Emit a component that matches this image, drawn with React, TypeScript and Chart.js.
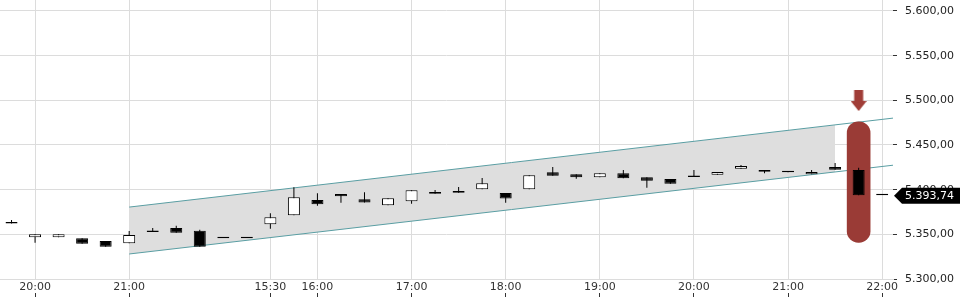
import React, { useEffect, useRef } from 'react';
import { Chart, registerables } from 'chart.js';

Chart.register(...registerables);

// 15-minute candles, index 0 = 19:45 (previous day)
const opens = [5363.8, 5346.7, 5346.7, 5345.6, 5342.5, 5340.0, 5352.5, 5357.0, 5354.1, 5345.6, 5345.6, 5361.2, 5371.3, 5388.4, 5395.1, 5389.2, 5382.5, 5387.0, 5397.4, 5398.5, 5400.4, 5396.3, 5400.4, 5419.5, 5417.2, 5413.8, 5418.3, 5413.8, 5411.9, 5414.2, 5416.8, 5423.5, 5422.0, 5420.9, 5417.2, 5425.4, 5422.0, 5393.74];
const highs = [5366.0, 5350.0, 5350.0, 5345.6, 5342.5, 5353.7, 5357.0, 5359.7, 5355.0, 5345.6, 5345.6, 5373.5, 5402.6, 5396.0, 5395.1, 5397.0, 5390.3, 5399.3, 5399.6, 5403.0, 5413.0, 5396.3, 5416.1, 5425.4, 5417.2, 5418.3, 5422.0, 5413.8, 5411.9, 5422.0, 5419.8, 5427.6, 5422.0, 5420.9, 5422.0, 5429.8, 5424.6, 5393.74];
const lows = [5362.0, 5340.6, 5346.7, 5339.5, 5336.2, 5340.0, 5352.5, 5351.8, 5336.2, 5345.6, 5345.6, 5356.3, 5371.3, 5382.0, 5385.4, 5385.5, 5382.5, 5384.3, 5395.5, 5396.6, 5400.4, 5385.4, 5400.4, 5415.6, 5412.3, 5413.8, 5412.7, 5402.2, 5406.7, 5414.2, 5416.8, 5423.5, 5418.3, 5419.4, 5417.2, 5422.4, 5393.74, 5393.74];
const closes = [5362.2, 5350.0, 5350.0, 5339.5, 5336.2, 5349.2, 5352.5, 5351.8, 5336.2, 5345.6, 5345.6, 5369.0, 5391.4, 5383.6, 5392.6, 5385.5, 5390.3, 5399.3, 5395.5, 5396.6, 5407.1, 5390.0, 5416.1, 5415.6, 5413.8, 5418.3, 5412.7, 5410.0, 5406.7, 5414.2, 5419.8, 5426.5, 5420.1, 5419.4, 5419.8, 5422.4, 5393.74, 5393.74];

const tickIndices = [1, 5, 11, 13, 17, 21, 25, 29, 33, 37];
const tickLabels = ['20:00', '21:00', '15:30', '16:00', '17:00', '18:00', '19:00', '20:00', '21:00', '22:00'];

const channelUpper = [{ x: 5, y: 5380.5 }, { x: 37.5, y: 5480.2 }];
const channelLower = [{ x: 5, y: 5328.0 }, { x: 37.5, y: 5427.5 }];
const channelFillUpper = [{ x: 5, y: 5380.5 }, { x: 35, y: 5472.5 }];
const channelFillLower = [{ x: 5, y: 5328.0 }, { x: 35, y: 5419.8 }];

const signalIndex = 36;
const signalRange = [5341, 5476];
const arrowValue = 5499.8;

const X_MIN = -0.49;
const X_MAX = 37.46;
const Y_MIN = 5300;
const Y_MAX = 5612.3;

const fmt = (v: number) => {
  const [i, d] = v.toFixed(2).split('.');
  return i.replace(/\B(?=(\d{3})+(?!\d))/g, '.') + ',' + d;
};

const priceTag = {
  id: 'priceTag',
  afterDraw(chart: any) {
    const ys = chart.scales.y;
    const ctx = chart.ctx;
    const v = closes[closes.length - 1];
    const py = ys.getPixelForValue(v) + 0.5;
    const left = chart.chartArea.right + 1;
    ctx.save();
    ctx.fillStyle = '#000';
    ctx.beginPath();
    ctx.moveTo(left, py);
    ctx.lineTo(left + 8, py - 8);
    ctx.lineTo(chart.width, py - 8);
    ctx.lineTo(chart.width, py + 8);
    ctx.lineTo(left + 8, py + 8);
    ctx.closePath();
    ctx.fill();
    ctx.fillStyle = '#fff';
    ctx.font = '11px "DejaVu Sans"';
    ctx.textBaseline = 'middle';
    ctx.textAlign = 'left';
    ctx.fillText(fmt(v), left + 11, py);
    ctx.restore();
  },
};

function makeArrow(): HTMLCanvasElement {
  const c = document.createElement('canvas');
  c.width = 16;
  c.height = 21;
  const g = c.getContext('2d')!;
  g.fillStyle = '#a03d37';
  g.fillRect(3.5, 0, 9, 11);
  g.beginPath();
  g.moveTo(0, 11);
  g.lineTo(16, 11);
  g.lineTo(8, 21);
  g.closePath();
  g.fill();
  return c;
}

const noPad = (s: any) => {
  s.paddingTop = 0;
  s.paddingBottom = 0;
  s.paddingLeft = 0;
  s.paddingRight = 0;
};

export default function App() {
  const ref = useRef<HTMLCanvasElement | null>(null);

  useEffect(() => {
    document.body.style.margin = '0';
    const canvas = ref.current!;
    const idx = closes.map((_, i) => i);
    const bodyColors = idx.map((i) => (closes[i] > opens[i] ? '#ffffff' : '#000000'));
    const arrow = makeArrow();

    const tickBuild = (s: any) => {
      s.ticks = tickIndices.map((v) => ({ value: v }));
    };

    const chart = new Chart(canvas, {
      type: 'line',
      data: {
        datasets: [
          {
            type: 'line',
            data: channelFillUpper,
            borderWidth: 0,
            pointRadius: 0,
            backgroundColor: '#dedede',
            fill: '+1',
            order: 10,
          },
          {
            type: 'line',
            data: channelFillLower,
            borderWidth: 0,
            pointRadius: 0,
            fill: false,
            order: 10,
          },
          {
            type: 'line',
            data: channelUpper,
            borderColor: '#5a9ea3',
            borderWidth: 1,
            pointRadius: 0,
            fill: false,
            order: 9,
          },
          {
            type: 'line',
            data: channelLower,
            borderColor: '#5a9ea3',
            borderWidth: 1,
            pointRadius: 0,
            fill: false,
            order: 9,
          },
          {
            type: 'bar',
            data: [{ x: signalIndex, y: signalRange }],
            backgroundColor: '#9a3b36',
            borderWidth: 0,
            borderRadius: 12,
            borderSkipped: false,
            grouped: false,
            categoryPercentage: 1,
            barPercentage: 1,
            maxBarThickness: 23,
            order: 8,
          },
          {
            type: 'bar',
            data: idx.map((i) => ({ x: i, y: [lows[i], highs[i]] })),
            backgroundColor: '#000',
            borderWidth: 0,
            grouped: false,
            maxBarThickness: 1,
            order: 7,
          },
          {
            type: 'bar',
            data: idx.map((i) => ({ x: i, y: [opens[i], closes[i]] })),
            backgroundColor: bodyColors,
            borderColor: '#000',
            borderWidth: 1,
            borderSkipped: false,
            grouped: false,
            maxBarThickness: 12,
            minBarLength: 1.5,
            order: 6,
          },
          {
            type: 'line',
            data: [{ x: signalIndex, y: arrowValue }],
            showLine: false,
            pointStyle: arrow as any,
            pointRadius: 10,
            order: 5,
          },
        ] as any,
      },
      options: {
        responsive: false,
        animation: false,
        layout: { padding: 0, autoPadding: false },
        plugins: {
          legend: { display: false },
          tooltip: { enabled: false },
        },
        scales: {
          x: {
            type: 'linear',
            position: 'bottom',
            min: X_MIN,
            max: X_MAX,
            offset: false,
            weight: 0,
            afterBuildTicks: tickBuild,
            afterFit: (s: any) => {
              s.height = 14;
              noPad(s);
            },
            grid: { color: '#dcdcdc', drawTicks: false, offset: false },
            border: { display: true, color: '#dcdcdc' },
            ticks: {
              autoSkip: false,
              maxRotation: 0,
              padding: 2,
              color: '#333',
              font: { family: 'DejaVu Sans', size: 11 },
              callback: (v: any) => {
                const k = tickIndices.indexOf(Number(v));
                return k >= 0 ? tickLabels[k] : '';
              },
            },
          },
          x2: {
            type: 'linear',
            position: 'bottom',
            min: X_MIN,
            max: X_MAX,
            offset: false,
            weight: 1,
            afterBuildTicks: tickBuild,
            afterFit: (s: any) => {
              s.height = 7;
              noPad(s);
            },
            grid: { drawOnChartArea: false, drawTicks: true, tickLength: 4, tickColor: '#333', offset: false },
            border: { display: false },
            ticks: { display: false, autoSkip: false },
          },
          y: {
            type: 'linear',
            position: 'right',
            min: Y_MIN,
            max: Y_MAX,
            afterFit: (s: any) => {
              s.width = 67;
              noPad(s);
            },
            grid: { color: '#dcdcdc', drawTicks: true, tickLength: 4, tickColor: '#333' },
            border: { display: false },
            ticks: {
              stepSize: 50,
              includeBounds: false,
              padding: 8,
              color: '#222',
              font: { family: 'DejaVu Sans', size: 11 },
              callback: (v: any) => fmt(Number(v)),
            },
          },
        },
      },
      plugins: [priceTag],
    } as any);

    return () => chart.destroy();
  }, []);

  return (
    <div style={{ width: 960, height: 300 }}>
      <canvas ref={ref} width={960} height={300} />
    </div>
  );
}
